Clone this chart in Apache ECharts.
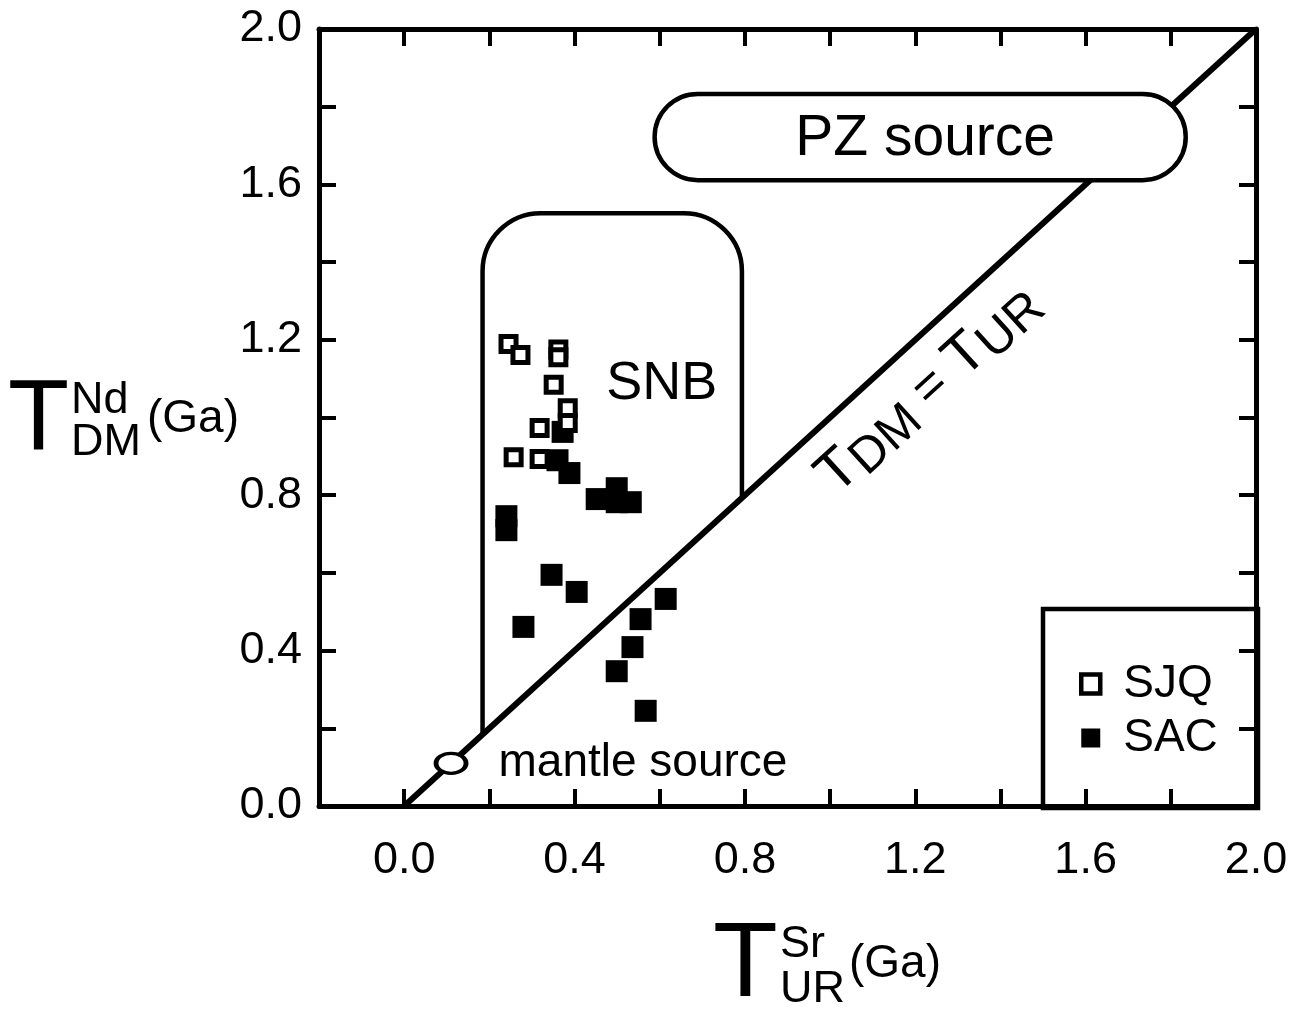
<!DOCTYPE html>
<html><head><meta charset="utf-8">
<script src="https://cdn.jsdelivr.net/npm/echarts@6/dist/echarts.min.js"></script>
<style>html,body{margin:0;padding:0;background:#fff}#c{width:1305px;height:1020px}</style>
</head><body><div id="c"></div>
<script>
const FONT = '"Liberation Sans", Arial, Helvetica, sans-serif';

// Tick label values
const xLabelValues = [0.0, 0.4, 0.8, 1.2, 1.6, 2.0];
const yLabelValues = [0.0, 0.4, 0.8, 1.2, 1.6, 2.0];

// Data series: [T_UR^Sr, T_DM^Nd] (Ga)
const sjqData = [
  [0.245, 1.189], [0.273, 1.161], [0.362, 1.175], [0.362, 1.155], [0.351, 1.084],
  [0.384, 1.024], [0.384, 0.986], [0.318, 0.973], [0.257, 0.898], [0.318, 0.893]
];
const sacData = [
  [0.240, 0.746], [0.240, 0.710], [0.372, 0.963], [0.360, 0.890], [0.388, 0.857],
  [0.452, 0.790], [0.499, 0.818], [0.499, 0.782], [0.532, 0.782], [0.346, 0.595],
  [0.405, 0.551], [0.280, 0.461], [0.614, 0.533], [0.555, 0.481], [0.536, 0.409],
  [0.499, 0.347], [0.567, 0.245]
];

// Reference line T_DM = T_UR
const equalLine = [[0, 0], [2, 2]];
// Mantle source field centre
const mantleSource = [[0.11, 0.11]];
// SNB field: [left x, right x, top y] (bottom bounded by the equal line)
const snbField = [[0.184, 0.793, 1.526]];
const snbLabel = [[0.605, 1.086]];
// PZ source field: [x0, x1, y0, y1]
const pzField = [[0.588, 1.835, 1.611, 1.833]];
// Position of the equal-line label
const equalLabel = [[1.232, 1.072]];

const fmt = (vals) => (v) => vals.some(t => Math.abs(t - v) < 1e-6) ? v.toFixed(1) : '';

const chart = echarts.init(document.getElementById('c'), null, {renderer: 'canvas'});

const axisLineStyle = {color: '#000', width: 5};
const tickStyle = {color: '#000', width: 4};

const option = {
  backgroundColor: '#fff',
  animation: false,
  grid: {left: 319, right: 49, top: 29, bottom: 214},
  xAxis: [{
    type: 'value', min: -0.2, max: 2.0, interval: 0.2, position: 'bottom',
    axisLine: {show: true, onZero: false, lineStyle: axisLineStyle},
    axisTick: {show: true, inside: true, length: 17, lineStyle: tickStyle},
    axisLabel: {show: true, margin: 32, color: '#000', fontSize: 45, fontFamily: FONT, formatter: fmt(xLabelValues)},
    splitLine: {show: false}
  }, {
    type: 'value', min: -0.2, max: 2.0, interval: 0.2, position: 'top',
    axisLine: {show: true, onZero: false, lineStyle: axisLineStyle},
    axisTick: {show: true, inside: true, length: 17, lineStyle: tickStyle},
    axisLabel: {show: false}, splitLine: {show: false}
  }],
  yAxis: [{
    type: 'value', min: 0, max: 2.0, interval: 0.2, position: 'left',
    axisLine: {show: true, onZero: false, lineStyle: axisLineStyle},
    axisTick: {show: true, inside: true, length: 17, lineStyle: tickStyle},
    axisLabel: {show: true, margin: 17, color: '#000', fontSize: 45, fontFamily: FONT, formatter: fmt(yLabelValues)},
    splitLine: {show: false}
  }, {
    type: 'value', min: 0, max: 2.0, interval: 0.2, position: 'right',
    axisLine: {show: true, onZero: false, lineStyle: axisLineStyle},
    axisTick: {show: true, inside: true, length: 17, lineStyle: tickStyle},
    axisLabel: {show: false}, splitLine: {show: false}
  }],
  legend: {
    orient: 'vertical', left: 1074, top: 656,
    itemWidth: 19, itemHeight: 19, itemGap: 8,
    textStyle: {color: '#000', fontSize: 46, fontFamily: FONT, lineHeight: 46, padding: [0, 0, 0, 18]},
    data: [
      {name: 'SJQ', icon: 'rect', itemStyle: {color: '#fff', borderColor: '#000', borderWidth: 4.5, opacity: 1}},
      {name: 'SAC', icon: 'rect', itemStyle: {color: '#000', borderWidth: 0, opacity: 1}}
    ]
  },
  graphic: [
    // legend frame
    {type: 'rect', shape: {x: 1043, y: 609, width: 215, height: 199}, style: {fill: 'none', stroke: '#000', lineWidth: 4.5}, z: 1},
    // y axis title
    {type: 'text', x: 8, y: 421, style: {text: 'T', fontSize: 100, fontFamily: FONT, fill: '#000', verticalAlign: 'middle'}},
    {type: 'text', x: 71, y: 401, style: {text: 'Nd', fontSize: 45, fontFamily: FONT, fill: '#000', verticalAlign: 'middle'}},
    {type: 'text', x: 71, y: 443, style: {text: 'DM', fontSize: 45, fontFamily: FONT, fill: '#000', verticalAlign: 'middle'}},
    {type: 'text', x: 147, y: 419, style: {text: '(Ga)', fontSize: 46, fontFamily: FONT, fill: '#000', verticalAlign: 'middle'}},
    // x axis title
    {type: 'text', x: 713, y: 967, style: {text: 'T', fontSize: 106, fontFamily: FONT, fill: '#000', verticalAlign: 'middle'}},
    {type: 'text', x: 780, y: 945, style: {text: 'Sr', fontSize: 45, fontFamily: FONT, fill: '#000', verticalAlign: 'middle'}},
    {type: 'text', x: 780, y: 990, style: {text: 'UR', fontSize: 45, fontFamily: FONT, fill: '#000', verticalAlign: 'middle'}},
    {type: 'text', x: 849, y: 964, style: {text: '(Ga)', fontSize: 46, fontFamily: FONT, fill: '#000', verticalAlign: 'middle'}}
  ],
  series: [
    {
      name: 'equal', type: 'line', data: equalLine, symbol: 'none', silent: true, z: 2,
      lineStyle: {color: '#000', width: 6}
    },
    {
      name: 'SNB', type: 'custom', data: snbField, z: 2, silent: true,
      renderItem: (params, api) => {
        const xl = api.value(0), xr = api.value(1), yt = api.value(2);
        const p0 = api.coord([xl, xl]), p1 = api.coord([xl, yt]);
        const p2 = api.coord([xr, yt]), p3 = api.coord([xr, xr]);
        const r = 58;
        const d = `M${p0[0]},${p0[1]} L${p1[0]},${p1[1] + r} ` +
          `C${p1[0]},${p1[1] + r * 0.45} ${p1[0] + r * 0.45},${p1[1]} ${p1[0] + r},${p1[1]} ` +
          `L${p2[0] - r},${p2[1]} ` +
          `C${p2[0] - r * 0.45},${p2[1]} ${p2[0]},${p2[1] + r * 0.45} ${p2[0]},${p2[1] + r} ` +
          `L${p3[0]},${p3[1]}`;
        return {type: 'path', shape: {pathData: d}, style: {fill: 'none', stroke: '#000', lineWidth: 4.5}};
      }
    },
    {
      name: 'SNB label', type: 'custom', data: snbLabel, z: 3, silent: true,
      renderItem: (params, api) => {
        const p = api.coord([api.value(0), api.value(1)]);
        return {type: 'text', x: p[0], y: p[1], style: {text: 'SNB', fontSize: 54, fontFamily: FONT, fill: '#000', align: 'center', verticalAlign: 'middle'}};
      }
    },
    {
      name: 'PZ', type: 'custom', data: pzField, z: 3, silent: true,
      renderItem: (params, api) => {
        const a = api.coord([api.value(0), api.value(3)]);
        const b = api.coord([api.value(1), api.value(2)]);
        const w = b[0] - a[0], h = b[1] - a[1];
        return {type: 'group', children: [
          {type: 'rect', shape: {x: a[0], y: a[1], width: w, height: h, r: h / 2}, style: {fill: '#fff', stroke: '#000', lineWidth: 4.5}},
          {type: 'text', x: a[0] + w / 2 + 5, y: a[1] + h / 2 + 2, style: {text: 'PZ source', fontSize: 57, fontFamily: FONT, fill: '#000', align: 'center', verticalAlign: 'middle'}}
        ]};
      }
    },
    {
      name: 'equal label', type: 'custom', data: equalLabel, z: 3, silent: true,
      renderItem: (params, api) => {
        const p = api.coord([api.value(0), api.value(1)]);
        const q0 = api.coord(equalLine[0]), q1 = api.coord(equalLine[1]);
        const ang = Math.atan2(q0[1] - q1[1], q1[0] - q0[0]);
        return {type: 'text', x: p[0], y: p[1], rotation: ang, style: {
          text: '{t|T}{s|DM}{e| = }{t|T}{s|UR}', align: 'center', verticalAlign: 'middle',
          rich: {
            t: {fontSize: 58, fontFamily: FONT, fill: '#000'},
            s: {fontSize: 50, fontFamily: FONT, fill: '#000', padding: [18, 0, 0, 0]},
            e: {fontSize: 52, fontFamily: FONT, fill: '#000'}
          }
        }};
      }
    },
    {
      name: 'mantle source', type: 'scatter', data: mantleSource, z: 4, silent: true,
      symbol: 'circle', symbolSize: [30, 20],
      itemStyle: {color: '#fff', borderColor: '#000', borderWidth: 4, opacity: 1},
      label: {show: true, position: 'right', distance: 30, formatter: 'mantle source', color: '#000', fontSize: 46, fontFamily: FONT}
    },
    {
      name: 'SAC', type: 'scatter', data: sacData, z: 5, symbol: 'rect', symbolSize: 22,
      itemStyle: {color: '#000', borderWidth: 0, opacity: 1}
    },
    {
      name: 'SJQ', type: 'scatter', data: sjqData, z: 6, symbol: 'rect', symbolSize: 15,
      itemStyle: {color: '#fff', borderColor: '#000', borderWidth: 5, opacity: 1}
    }
  ]
};
chart.setOption(option);
</script>
</body></html>
